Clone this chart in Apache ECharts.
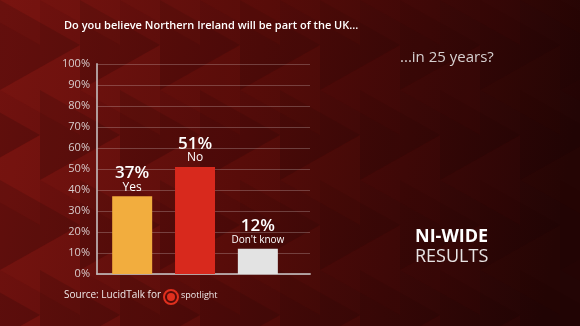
<!DOCTYPE html>
<html><head><meta charset="utf-8">
<script src="https://cdn.jsdelivr.net/npm/echarts@6/dist/echarts.min.js"></script>
<style>html,body{margin:0;padding:0;background:#3a0808}#c{width:580px;height:326px}</style>
</head><body><div id="c"></div>
<script>
const categories = ['Yes', 'No', "Don't know"];
const values = [37, 51, 12];
const barColors = ['#f2ad3e', '#d8291d', '#e3e3e3'];
const yTicks = [0, 10, 20, 30, 40, 50, 60, 70, 80, 90, 100];

const FONT = '"Open Sans", "Noto Sans", sans-serif';
const chart = echarts.init(document.getElementById('c'), null, {renderer: 'canvas'});

// decorative triangle pattern
const tri = [];
const cols = 8, rows = 4, tw = 80, th = 90;
for (let r = -1; r < rows; r++) {
  for (let c = -1; c < cols; c++) {
    const x0 = c * tw + (r % 2 ? tw / 2 : 0), y0 = r * th;
    const alpha = Math.max(0, 0.14 - c * 0.017);
    tri.push({type: 'polygon', silent: true, z: -9,
      shape: {points: [[x0, y0], [x0 + tw, y0 + th / 2], [x0, y0 + th]]},
      style: {fill: 'rgba(0,0,0,' + (alpha * 0.9).toFixed(3) + ')'}});
    tri.push({type: 'polygon', silent: true, z: -9,
      shape: {points: [[x0 + tw, y0 + th / 2], [x0, y0 + th], [x0 + tw, y0 + th * 1.5]]},
      style: {fill: 'rgba(255,60,40,' + (alpha * 0.35).toFixed(3) + ')'}});
  }
}

chart.setOption({
  backgroundColor: {type: 'linear', x: 0, y: 0, x2: 1, y2: 0.3,
    colorStops: [{offset: 0, color: '#72120f'}, {offset: 0.45, color: '#520b09'}, {offset: 1, color: '#230505'}]},
  animation: false,
  textStyle: {fontFamily: FONT},
  grid: {left: 97, right: 270, top: 64, bottom: 52},
  xAxis: {
    type: 'value', min: -0.56, max: 2.83,
    axisLabel: {show: false}, axisTick: {show: false}, splitLine: {show: false},
    axisLine: {show: true, onZero: false, lineStyle: {color: 'rgba(190,180,180,0.85)', width: 2}}
  },
  yAxis: {
    type: 'value', min: yTicks[0], max: yTicks[yTicks.length - 1], interval: 10,
    axisLine: {show: true, onZero: false, lineStyle: {color: 'rgba(190,180,180,0.85)', width: 2}},
    axisTick: {show: false},
    splitLine: {lineStyle: {color: 'rgba(255,255,255,0.22)', width: 1}},
    axisLabel: {color: '#d8cccc', fontSize: 11, margin: 7, formatter: '{value}%', fontFamily: FONT}
  },
  series: [{
    type: 'bar', barWidth: 40,
    data: values.map((v, i) => ({
      value: [i, v], name: categories[i],
      itemStyle: {color: barColors[i]}
    })),
    label: {
      show: true, position: 'top', distance: 2,
      formatter: p => '{p|' + p.value[1] + '%}\n{' + (p.dataIndex === 2 ? 's' : 'n') + '|' + p.name + '}',
      rich: {
        p: {fontSize: 17, fontWeight: 600, color: '#ffffff', fontFamily: FONT, lineHeight: 14},
        n: {fontSize: 12, color: '#ffffff', fontFamily: FONT, lineHeight: 14},
        s: {fontSize: 10, color: '#ffffff', fontFamily: FONT, lineHeight: 14}
      }
    }
  }],
  graphic: tri.concat([
    {type: 'text', left: 64, top: 20, style: {text: 'Do you believe Northern Ireland will be part of the UK...', fill: '#ffffff', font: '600 11px ' + FONT}},
    {type: 'text', left: 400, top: 50, style: {text: '...in 25 years?', fill: '#d6d0d0', font: '15px ' + FONT}},
    {type: 'text', left: 415, top: 228, style: {text: 'NI-WIDE', fill: '#ffffff', font: 'bold 18px ' + FONT}},
    {type: 'text', left: 415, top: 248, style: {text: 'RESULTS', fill: '#e8e4e4', font: '18px ' + FONT}},
    {type: 'text', left: 64, top: 290, style: {text: 'Source: LucidTalk for', fill: '#f0eaea', font: '10px ' + FONT}},
    {type: 'circle', shape: {cx: 171, cy: 297, r: 7}, style: {fill: 'none', stroke: '#e0301e', lineWidth: 2}},
    {type: 'circle', shape: {cx: 171, cy: 297, r: 4}, style: {fill: '#e0301e'}},
    {type: 'text', left: 181, top: 291, style: {text: 'spotlight', fill: '#f0eaea', font: '9px ' + FONT}}
  ])
});
</script></body></html>
